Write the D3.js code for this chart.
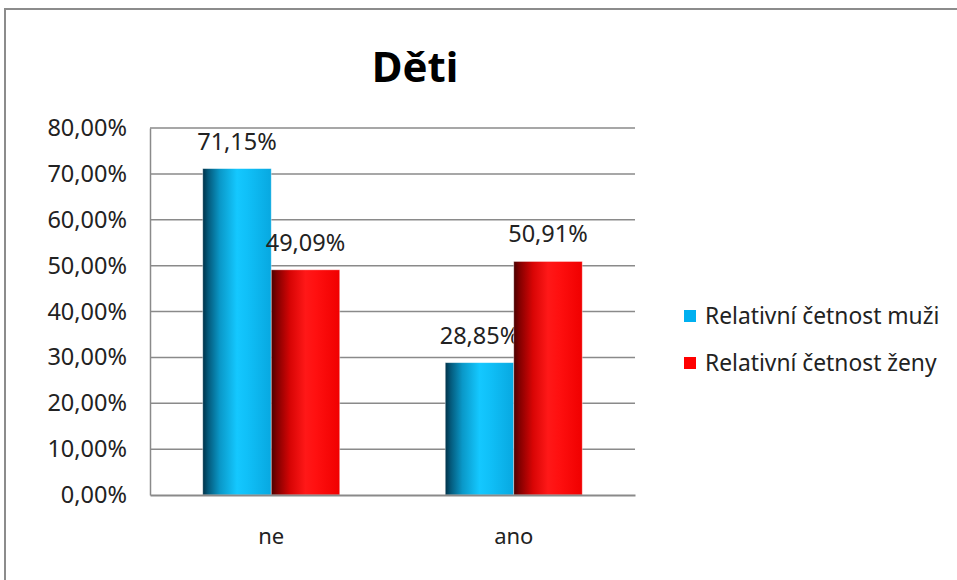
<!DOCTYPE html>
<html><head><meta charset="utf-8">
<script src="https://cdnjs.cloudflare.com/ajax/libs/d3/7.8.5/d3.min.js"></script>
<style>body{margin:0;background:#fff}svg{display:block}text{font-family:"Noto Sans",sans-serif}</style>
</head><body>
<script>
const title = "Děti";
const categories = ["ne", "ano"];
const seriesNames = ["Relativní četnost muži", "Relativní četnost ženy"];
const muzi = [71.15, 28.85];
const zeny = [49.09, 50.91];
const yTicks = [0, 10, 20, 30, 40, 50, 60, 70, 80];

const W = 957, H = 580;
const svg = d3.select("body").append("svg").attr("width", W).attr("height", H);
const defs = svg.append("defs");
function grad(id, stops) {
  const g = defs.append("linearGradient").attr("id", id).attr("x1", "0").attr("x2", "1").attr("y1", "0").attr("y2", "0");
  stops.forEach(s => g.append("stop").attr("offset", s[0]).attr("stop-color", s[1]));
}
grad("gBlue", [[0, "#003248"], [0.08, "#045a7c"], [0.25, "#0a98c8"], [0.5, "#14c8ff"], [0.65, "#10c0f8"], [1, "#08a8e0"]]);
grad("gRed", [[0, "#4a0000"], [0.08, "#800000"], [0.28, "#d80505"], [0.5, "#ff1818"], [0.65, "#ff1010"], [1, "#f00000"]]);

svg.append("rect").attr("x", 5).attr("y", 9).attr("width", W + 20).attr("height", H + 20)
  .attr("fill", "#fff").attr("stroke", "#8c8c8c").attr("stroke-width", 2);

const x0 = 150, x1 = 635, yTop = 128, yBot = 495;
const x = d3.scaleBand().domain(categories).range([x0, x1]).paddingInner(0).paddingOuter(0);
const y = d3.scaleLinear().domain([0, 80]).range([yBot, yTop]);
const barW = 68.5;

const series = [
  { name: seriesNames[0], values: muzi, fill: "url(#gBlue)", color: "#00b0f0" },
  { name: seriesNames[1], values: zeny, fill: "url(#gRed)", color: "#ff0000" }
];

// gridlines
svg.append("g").selectAll("line").data(yTicks.filter(t => t > 0)).join("line")
  .attr("x1", x0).attr("x2", x1).attr("y1", d => y(d)).attr("y2", d => y(d))
  .attr("stroke", "#8a8a8a").attr("stroke-width", 1.5);

// y axis
const yAxis = d3.axisLeft(y).tickValues(yTicks).tickSize(0).tickPadding(23)
  .tickFormat(d => d3.format(".2f")(d).replace(".", ",") + "%");
const ya = svg.append("g").attr("transform", `translate(${x0},0)`).call(yAxis);
ya.select(".domain").attr("stroke", "#8a8a8a").attr("stroke-width", 1.5);
ya.selectAll("text").attr("font-size", 23.5).attr("fill", "#222").attr("font-family", "Noto Sans");

// bars
series.forEach((s, i) => {
  svg.append("g").selectAll("rect").data(s.values).join("rect")
    .attr("x", (d, j) => x(categories[j]) + x.bandwidth() / 2 - barW + i * barW)
    .attr("width", barW)
    .attr("y", d => y(d)).attr("height", d => yBot - y(d))
    .attr("fill", s.fill).attr("stroke", "rgba(255,255,255,0.5)").attr("stroke-width", 0.8);
  svg.append("g").selectAll("text").data(s.values).join("text")
    .attr("x", (d, j) => x(categories[j]) + x.bandwidth() / 2 - barW / 2 + i * barW)
    .attr("y", d => y(d) - 19)
    .attr("text-anchor", "middle").attr("font-size", 23.5).attr("fill", "#222")
    .text(d => d3.format(".2f")(d).replace(".", ",") + "%");
});

// x axis
const xAxis = d3.axisBottom(x).tickSize(0).tickPadding(33);
const xa = svg.append("g").attr("transform", `translate(0,${yBot})`).call(xAxis);
xa.select(".domain").attr("stroke", "#8a8a8a").attr("stroke-width", 2);
xa.selectAll("text").attr("font-size", 22).attr("fill", "#222").attr("font-family", "Noto Sans");

// title
svg.append("text").attr("x", 415).attr("y", 82).attr("text-anchor", "middle")
  .attr("font-size", 42).attr("font-weight", "bold").attr("fill", "#000").text(title);

// legend
const lg = svg.append("g").selectAll("g").data(series).join("g")
  .attr("transform", (d, i) => `translate(684,${316 + i * 47})`);
lg.append("rect").attr("x", 0).attr("y", -6).attr("width", 12).attr("height", 12).attr("fill", d => d.color);
lg.append("text").attr("x", 21).attr("y", 0).attr("dy", "0.35em").attr("font-size", 22.8).attr("fill", "#222").text(d => d.name);
</script>
</body></html>
